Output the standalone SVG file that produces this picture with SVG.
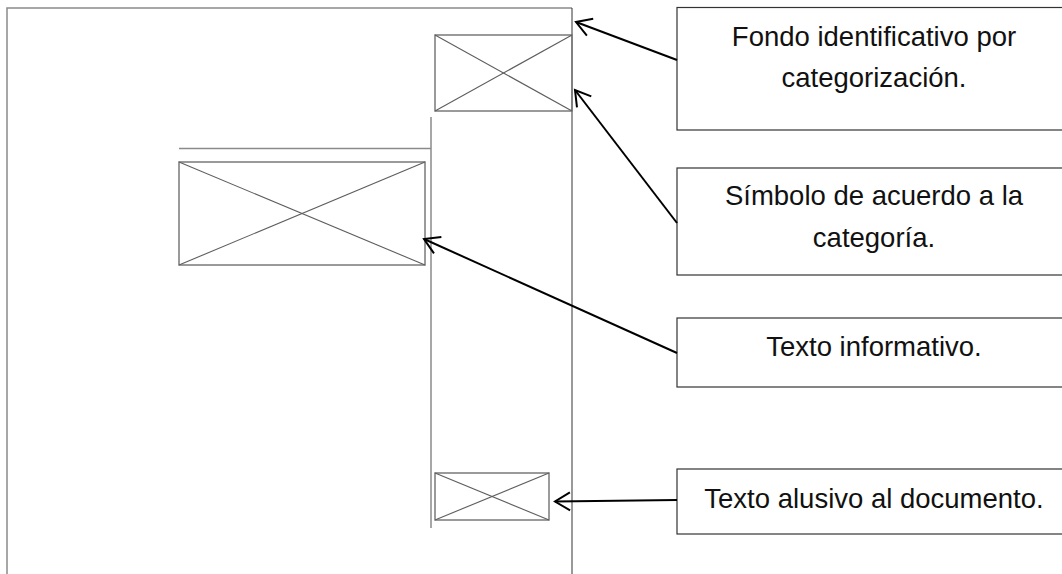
<svg xmlns="http://www.w3.org/2000/svg" width="1062" height="574" viewBox="0 0 1062 574">
  <style>
    .frame { fill: none; stroke: #8a8a8a; stroke-width: 1.5; }
    .edge { fill: none; stroke: #333; stroke-width: 1; }
    .ph { fill: none; stroke: #7a7a7a; stroke-width: 1.5; }
    .ph line { stroke: #5e5e5e; stroke-width: 1.1; }
    .note { fill: #fff; stroke: #333; stroke-width: 1.2; }
    .label { font-family: "Liberation Sans", Arial, sans-serif; font-size: 27.5px; fill: #111; text-anchor: middle; }
    .conn { fill: none; stroke: #000; stroke-width: 2; }
  </style>
  <defs>
    <marker id="openArrow" markerUnits="userSpaceOnUse" markerWidth="24" markerHeight="24" viewBox="-20 -12 24 24" refX="0" refY="0" orient="auto">
      <path d="M-15,-9 L0,0 L-15,9" fill="none" stroke="#000" stroke-width="2"/>
    </marker>
  </defs>
  <rect width="1062" height="574" fill="#fff"/>

  <!-- page layout sketch -->
  <g id="page">
    <path class="frame" d="M7,575 V8 H572"/>
    <line class="edge" x1="572" y1="8" x2="572" y2="575"/>
    <line class="frame" x1="431" y1="117" x2="431" y2="528"/>
    <line class="frame" x1="179" y1="148.5" x2="431" y2="148.5"/>
  </g>

  <g id="ph-background" class="ph">
    <rect x="435" y="35" width="137" height="76"/>
    <line x1="435" y1="35" x2="572" y2="111"/>
    <line x1="435" y1="111" x2="572" y2="35"/>
  </g>

  <g id="ph-info" class="ph">
    <rect x="179" y="162" width="246" height="103"/>
    <line x1="179" y1="162" x2="425" y2="265"/>
    <line x1="179" y1="265" x2="425" y2="162"/>
  </g>

  <g id="ph-doc" class="ph">
    <rect x="435" y="473" width="114" height="47"/>
    <line x1="435" y1="473" x2="549" y2="520"/>
    <line x1="435" y1="520" x2="549" y2="473"/>
  </g>

  <!-- callout boxes -->
  <g id="note-fondo">
    <rect class="note" x="677" y="7.5" width="400" height="122.5"/>
    <text class="label" x="874" y="46">Fondo identificativo por</text>
    <text class="label" x="874" y="87">categorización.</text>
  </g>

  <g id="note-simbolo">
    <rect class="note" x="677" y="168" width="400" height="107"/>
    <text class="label" x="874" y="205">Símbolo de acuerdo a la</text>
    <text class="label" x="874" y="247">categoría.</text>
  </g>

  <g id="note-texto">
    <rect class="note" x="677" y="318" width="400" height="69"/>
    <text class="label" x="874" y="356">Texto informativo.</text>
  </g>

  <g id="note-alusivo">
    <rect class="note" x="677" y="469" width="400" height="65"/>
    <text class="label" x="874" y="508">Texto alusivo al documento.</text>
  </g>

  <!-- connectors -->
  <g id="connectors">
    <line class="conn" x1="677" y1="60" x2="576" y2="22" marker-end="url(#openArrow)"/>
    <line class="conn" x1="677" y1="223" x2="575" y2="90" marker-end="url(#openArrow)"/>
    <line class="conn" x1="677" y1="353" x2="424" y2="239" marker-end="url(#openArrow)"/>
    <line class="conn" x1="677" y1="500" x2="555" y2="501.5" marker-end="url(#openArrow)"/>
  </g>
</svg>
